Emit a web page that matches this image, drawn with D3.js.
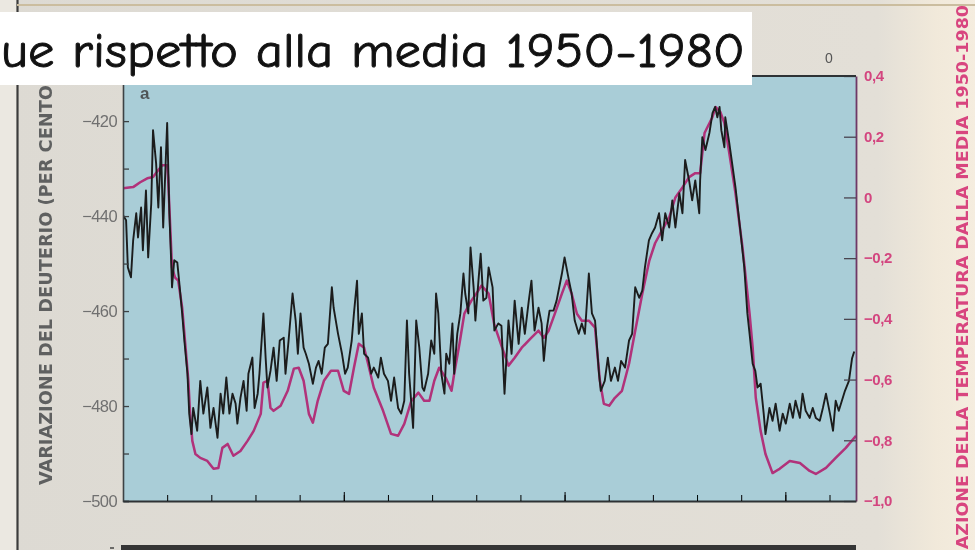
<!DOCTYPE html>
<html>
<head>
<meta charset="utf-8">
<script src="https://cdn.jsdelivr.net/npm/d3@7"></script>
<style>
  html, body { margin: 0; padding: 0; background: #e2dfd8; }
  svg { display: block; }
</style>
</head>
<body>
<script>
// Vostok ice core: deuterium (black) and temperature anomaly (magenta)
// ages in thousands of years before present

const deuteriumSeries = [
  [0,-439.8],[0.7,-440.9],[1.1,-450.8],[1.8,-452.9],[2.3,-445.1],[3.0,-439.4],[3.4,-444.5],[4.1,-438.2],
  [4.5,-447.2],[5.2,-434.6],[5.7,-448.7],[6.4,-437.3],[6.8,-421.9],[7.5,-428.9],[8.0,-438.2],[8.6,-425.5],
  [9.1,-442.4],[10.0,-420.4],[10.5,-439.4],[10.9,-449.3],[11.1,-455.0],[11.6,-449.3],[12.3,-449.8],[12.7,-453.6],
  [13.4,-460.5],[13.9,-466.2],[14.6,-473.2],[15.0,-481.6],[15.5,-485.9],[15.9,-480.4],[16.8,-485.2],[17.5,-474.7],
  [18.2,-481.6],[19.1,-476.1],[19.8,-484.6],[20.5,-480.4],[21.4,-486.7],[22.1,-477.4],[22.7,-481.6],[23.4,-474.0],
  [24.1,-481.6],[24.8,-477.4],[25.5,-479.5],[25.9,-483.7],[26.6,-478.3],[27.3,-474.7],[28.0,-481.0],[28.4,-473.2],
  [29.3,-469.8],[29.8,-480.4],[30.5,-477.4],[30.9,-473.2],[31.8,-460.5],[32.3,-469.8],[32.7,-476.1],[33.4,-472.6],
  [34.1,-467.7],[34.8,-474.7],[35.5,-466.2],[36.4,-465.6],[36.8,-473.2],[37.5,-466.2],[38.4,-456.3],[39.1,-462.0],
  [39.6,-469.0],[40.2,-460.5],[40.9,-467.7],[41.4,-469.0],[42.1,-471.1],[43.0,-475.3],[43.7,-471.9],[44.3,-470.5],
  [45.0,-473.2],[45.7,-467.7],[46.4,-466.9],[47.3,-455.0],[47.7,-459.3],[48.7,-464.8],[49.6,-469.0],[50.3,-473.2],
  [50.9,-471.9],[51.8,-466.2],[52.3,-460.5],[53.0,-453.6],[53.4,-464.8],[54.1,-460.5],[54.6,-469.0],[55.5,-469.8],
  [56.2,-473.2],[56.8,-471.9],[57.8,-474.0],[58.4,-469.8],[59.1,-473.2],[60.0,-474.7],[60.7,-478.9],[61.4,-474.0],
  [62.3,-480.4],[63.0,-481.6],[63.7,-478.9],[64.3,-462.0],[64.8,-473.2],[65.7,-484.6],[66.4,-462.0],[67.1,-467.7],
  [67.8,-476.1],[68.2,-476.8],[69.1,-473.2],[69.8,-466.2],[70.5,-469.0],[70.9,-456.3],[71.4,-460.5],[72.1,-473.2],
  [72.8,-477.4],[73.2,-469.0],[73.9,-471.1],[74.6,-462.6],[75.0,-473.2],[75.7,-464.8],[76.4,-460.5],[77.1,-452.1],
  [77.5,-456.3],[78.2,-460.5],[78.7,-446.6],[79.4,-455.0],[79.8,-462.0],[80.5,-453.6],[81.0,-447.9],[81.6,-457.8],
  [82.3,-457.2],[82.8,-450.8],[83.7,-455.0],[84.1,-464.1],[85.0,-462.6],[85.7,-463.1],[86.4,-477.4],[87.3,-462.0],
  [88.0,-469.0],[88.7,-457.8],[89.6,-466.9],[90.3,-459.3],[91.0,-464.8],[91.9,-457.8],[92.5,-453.6],[93.2,-464.1],
  [94.1,-459.3],[94.8,-462.6],[95.3,-470.5],[96.0,-463.5],[96.6,-459.9],[97.5,-459.9],[98.2,-457.8],[99.4,-452.1],
  [100.0,-448.7],[101.0,-453.6],[101.6,-456.3],[102.3,-462.0],[103.2,-464.8],[103.9,-462.6],[104.6,-464.8],[105.5,-452.1],
  [106.2,-460.5],[106.9,-462.0],[107.8,-473.2],[108.2,-476.8],[109.1,-474.7],[109.8,-469.8],[110.5,-474.7],[111.4,-471.9],
  [112.1,-474.7],[112.8,-470.5],[113.7,-471.9],[114.6,-466.2],[115.3,-464.8],[116.0,-455.0],[116.9,-457.2],[117.6,-455.7],
  [118.2,-450.8],[119.1,-445.1],[119.8,-443.6],[120.5,-442.4],[121.4,-439.4],[122.1,-445.1],[122.8,-439.4],[123.7,-442.4],
  [124.4,-436.7],[125.1,-442.4],[126.0,-435.2],[126.7,-439.4],[127.3,-428.2],[128.2,-432.5],[128.9,-436.7],[129.6,-432.5],
  [130.5,-439.4],[130.7,-432.5],[131.2,-423.4],[131.9,-426.1],[132.8,-422.5],[133.5,-418.3],[134.1,-417.0],[134.6,-419.2],
  [135.1,-417.0],[135.5,-421.9],[136.2,-425.5],[136.4,-419.2],[137.3,-424.6],[138.7,-433.9],[139.8,-443.0],[140.7,-450.8],
  [141.4,-460.5],[141.9,-464.8],[142.6,-471.1],[143.2,-472.6],[143.7,-476.1],[144.4,-475.3],[145.1,-481.6],[145.5,-485.9],
  [146.4,-480.4],[147.1,-483.1],[147.8,-479.5],[148.7,-485.2],[149.4,-481.6],[150.1,-483.7],[151.0,-479.5],[151.7,-482.5],
  [152.3,-478.9],[153.3,-482.5],[153.9,-477.4],[154.6,-481.0],[155.5,-482.5],[156.2,-480.4],[156.9,-482.5],[157.8,-483.1],
  [158.5,-480.4],[159.2,-477.4],[160.1,-481.6],[160.8,-485.2],[161.4,-478.9],[162.1,-481.0],[162.8,-478.9],[163.5,-476.8],
  [164.4,-474.7],[165.1,-470.0],[165.6,-468.5]
];

const temperatureSeries = [
  [0,0.03],[2.3,0.034],[3.9,0.05],[5.5,0.063],[6.8,0.067],[8.0,0.09],[8.9,0.106],[10.0,0.106],
  [10.2,0.067],[11.1,-0.231],[11.8,-0.264],[12.5,-0.274],[13.4,-0.363],[14.1,-0.482],[14.8,-0.604],[15.2,-0.713],
  [15.7,-0.802],[16.4,-0.845],[17.5,-0.858],[19.1,-0.868],[20.5,-0.894],[21.6,-0.891],[22.5,-0.825],[23.7,-0.812],
  [25.0,-0.851],[26.6,-0.835],[28.2,-0.802],[29.6,-0.769],[31.2,-0.713],[31.8,-0.61],[32.7,-0.604],[33.4,-0.693],
  [34.1,-0.703],[35.7,-0.686],[37.3,-0.637],[38.7,-0.564],[39.8,-0.561],[40.9,-0.604],[42.1,-0.713],[43.0,-0.742],
  [44.1,-0.67],[45.5,-0.604],[47.1,-0.571],[48.7,-0.571],[50.0,-0.637],[51.2,-0.647],[52.3,-0.561],[53.4,-0.482],
  [54.6,-0.495],[55.5,-0.548],[56.8,-0.627],[58.9,-0.703],[60.7,-0.779],[62.3,-0.785],[63.7,-0.746],[65.3,-0.67],
  [66.9,-0.643],[68.2,-0.67],[69.4,-0.67],[70.5,-0.604],[71.6,-0.561],[73.2,-0.597],[74.4,-0.637],[75.0,-0.581],
  [76.2,-0.482],[77.3,-0.383],[78.9,-0.34],[80.0,-0.317],[81.2,-0.29],[82.8,-0.317],[84.1,-0.42],[85.7,-0.488],
  [87.3,-0.554],[88.7,-0.528],[90.3,-0.495],[92.5,-0.462],[94.1,-0.439],[95.3,-0.462],[96.4,-0.439],[97.8,-0.383],
  [99.4,-0.317],[100.5,-0.274],[101.6,-0.317],[102.8,-0.383],[103.9,-0.406],[105.5,-0.406],[106.9,-0.429],[108.0,-0.604],
  [108.9,-0.68],[110.1,-0.686],[111.4,-0.66],[113.0,-0.637],[114.6,-0.548],[116.0,-0.439],[117.6,-0.317],[119.2,-0.208],
  [120.5,-0.151],[122.1,-0.108],[123.7,-0.066],[125.1,0.0],[126.7,0.033],[128.2,0.067],[129.6,0.08],[130.7,0.08],
  [131.7,0.212],[133.5,0.265],[134.2,0.298],[135.3,0.281],[136.2,0.245],[137.3,0.146],[138.7,0.014],[140.3,-0.165],
  [141.9,-0.383],[142.6,-0.495],[143.3,-0.66],[144.4,-0.769],[145.5,-0.845],[147.1,-0.908],[148.7,-0.894],[151.0,-0.868],
  [153.3,-0.875],[155.5,-0.901],[156.9,-0.911],[159.2,-0.891],[161.4,-0.858],[163.7,-0.825],[166.0,-0.785]
];

const deuteriumTicks = [-500, -480, -460, -440, -420];
const deuteriumMinorTicks = [-490, -470, -450, -430, -410];
const temperatureTicks = [0.4, 0.2, 0, -0.2, -0.4, -0.6, -0.8, -1.0];
const ageTicks = [10, 20, 30, 40, 50, 60, 70, 80, 90, 100, 110, 120, 130, 140, 150, 160];
const ageMajorTicks = [50, 100, 150];

const leftTitle = "VARIAZIONE DEL DEUTERIO (PER CENTO)";
const rightTitle = "VARIAZIONE DELLA TEMPERATURA DALLA MEDIA 1950-1980";
const panelLetter = "a";
const topAxisLabel = "0";
const captionText = "ue rispetto alla media 1950-1980";

// ---- layout ----
const W = 975, H = 550;
const plot = { left: 123, right: 856, top: 76, bottom: 501 };

const x = d3.scaleLinear().domain([0, 166]).range([plot.left, plot.right]);
const yD = d3.scaleLinear().domain([-500, -410.5]).range([plot.bottom, plot.top]);
const yT = d3.scaleLinear().domain([-1.0, 0.4]).range([plot.bottom, plot.top]);

const itLocale = d3.formatLocale({ decimal: ",", thousands: ".", grouping: [3], currency: ["", "€"], minus: "\u2212" });
const fmtT = itLocale.format(".1f");
const fmtD = itLocale.format("d");

const svg = d3.select("body").append("svg")
  .attr("width", W).attr("height", H)
  .attr("viewBox", `0 0 ${W} ${H}`);

const defs = svg.append("defs");
const paper = defs.append("linearGradient").attr("id", "paper")
  .attr("x1", 0).attr("x2", 1).attr("y1", 0).attr("y2", 0);
paper.append("stop").attr("offset", "0%").attr("stop-color", "#dddad3");
paper.append("stop").attr("offset", "90%").attr("stop-color", "#e3dfd7");
paper.append("stop").attr("offset", "96%").attr("stop-color", "#f1e9da");
paper.append("stop").attr("offset", "100%").attr("stop-color", "#f5eddf");

defs.append("filter").attr("id", "scan")
  .attr("x", "-5%").attr("y", "-5%").attr("width", "110%").attr("height", "110%")
  .append("feGaussianBlur").attr("stdDeviation", 0.65);

defs.append("clipPath").attr("id", "plotClip")
  .append("rect")
  .attr("x", plot.left).attr("y", plot.top)
  .attr("width", plot.right - plot.left).attr("height", plot.bottom - plot.top);

// paper
svg.append("rect").attr("width", W).attr("height", H).attr("fill", "url(#paper)");
svg.append("rect").attr("x", 0).attr("y", 0).attr("width", 17).attr("height", H).attr("fill", "#ebe8e1");

const scan = svg.append("g").attr("filter", "url(#scan)");

// page edge and top rule of the printed page
scan.append("line").attr("x1", 17.5).attr("x2", 17.5).attr("y1", 0).attr("y2", H)
  .attr("stroke", "#3b3b3b").attr("stroke-width", 2.2);
scan.append("line").attr("x1", 17).attr("x2", W).attr("y1", 5).attr("y2", 5)
  .attr("stroke", "#cbbd9f").attr("stroke-width", 2);

// plot background
scan.append("rect")
  .attr("x", plot.left).attr("y", plot.top)
  .attr("width", plot.right - plot.left).attr("height", plot.bottom - plot.top)
  .attr("fill", "#a9cdd7");

// series
const lines = scan.append("g").attr("clip-path", "url(#plotClip)");
lines.append("path")
  .datum(temperatureSeries)
  .attr("fill", "none")
  .attr("stroke", "#b1307a")
  .attr("stroke-width", 2.5)
  .attr("stroke-linejoin", "round")
  .attr("d", d3.line().x(d => x(d[0])).y(d => yT(d[1])));
lines.append("path")
  .datum(deuteriumSeries)
  .attr("fill", "none")
  .attr("stroke", "#1b1d1d")
  .attr("stroke-width", 1.9)
  .attr("stroke-linejoin", "round")
  .attr("d", d3.line().x(d => x(d[0])).y(d => yD(d[1])));

// left axis (deuterium)
const leftAxis = scan.append("g").attr("transform", `translate(${plot.left},0)`)
  .call(d3.axisLeft(yD).tickValues(deuteriumTicks).tickSize(-6).tickPadding(6).tickFormat(d => fmtD(d)));
scan.append("g").attr("transform", `translate(${plot.left},0)`)
  .call(d3.axisLeft(yD).tickValues(deuteriumMinorTicks).tickSize(-6).tickFormat(""))
  .call(g => g.select(".domain").remove());
leftAxis.select(".domain").attr("stroke", "#3e4244").attr("stroke-width", 1.6);
scan.selectAll("g.tick line").attr("stroke", "#3e4244").attr("stroke-width", 1.3);
leftAxis.selectAll("text")
  .attr("font-family", "'Liberation Sans', Arial, sans-serif")
  .attr("font-size", 16.5).attr("fill", "#707070")
  .attr("letter-spacing", -0.6);

// right axis (temperature)
const rightAxis = scan.append("g").attr("transform", `translate(${plot.right},0)`)
  .call(d3.axisRight(yT).tickValues(temperatureTicks).tickSizeInner(-12).tickSizeOuter(0).tickPadding(8)
    .tickFormat(d => d === 0 ? "0" : fmtT(d)));
rightAxis.select(".domain").attr("stroke", "#6e3766").attr("stroke-width", 1.8);
rightAxis.selectAll("line").attr("stroke", "#4a4450").attr("stroke-width", 1.3);
rightAxis.selectAll("text")
  .attr("font-family", "'Liberation Sans', Arial, sans-serif")
  .attr("font-weight", "bold")
  .attr("font-size", 15).attr("fill", "#d3457f")
  .attr("letter-spacing", -0.4);

// bottom axis (age ticks, inside)
const bottomAxis = scan.append("g").attr("transform", `translate(0,${plot.bottom})`)
  .call(d3.axisBottom(x).tickValues(ageTicks).tickSizeInner(-6).tickSizeOuter(0).tickFormat(""));
scan.append("g").attr("transform", `translate(0,${plot.bottom})`)
  .call(d3.axisBottom(x).tickValues(ageMajorTicks).tickSizeInner(-9).tickSizeOuter(0).tickFormat(""))
  .call(g => g.select(".domain").remove());
bottomAxis.select(".domain").attr("stroke", "#2f3335").attr("stroke-width", 2.2);

// top border
scan.append("line")
  .attr("x1", plot.left).attr("x2", plot.right).attr("y1", plot.top).attr("y2", plot.top)
  .attr("stroke", "#2f3335").attr("stroke-width", 2);

// panel letter
scan.append("text").attr("x", 140).attr("y", 99)
  .attr("font-family", "'Liberation Sans', Arial, sans-serif").attr("font-weight", "bold")
  .attr("font-size", 17).attr("fill", "#4f5557").text(panelLetter);

// top axis label fragment
scan.append("text").attr("x", 829).attr("y", 63).attr("text-anchor", "middle")
  .attr("font-family", "'Liberation Sans', Arial, sans-serif")
  .attr("font-size", 14).attr("fill", "#555").text(topAxisLabel);

// axis titles
scan.append("text")
  .attr("transform", "translate(52,485) rotate(-90)")
  .attr("font-family", "'Liberation Sans Narrow', 'DejaVu Sans Condensed', 'Liberation Sans', Arial, sans-serif")
  .attr("font-weight", "bold").attr("font-size", 17).attr("fill", "#5e6060")
  .attr("textLength", 408).attr("lengthAdjust", "spacingAndGlyphs")
  .text(leftTitle);

scan.append("text")
  .attr("transform", "translate(968,5) rotate(-90)")
  .attr("text-anchor", "end")
  .attr("font-family", "'Liberation Sans Narrow', 'DejaVu Sans Condensed', 'Liberation Sans', Arial, sans-serif")
  .attr("font-weight", "bold").attr("font-size", 16).attr("fill", "#d8447f")
  .attr("textLength", 590).attr("lengthAdjust", "spacingAndGlyphs")
  .text(rightTitle);

// top edge of the next panel
scan.append("rect").attr("x", 121).attr("y", 545).attr("width", 735).attr("height", 6).attr("fill", "#343434");
scan.append("line").attr("x1", 110).attr("x2", 114).attr("y1", 548).attr("y2", 548)
  .attr("stroke", "#444").attr("stroke-width", 1.5);

// caption strip
svg.append("rect").attr("x", 0).attr("y", 12).attr("width", 752).attr("height", 73).attr("fill", "#ffffff");
svg.append("text").attr("x", 1).attr("y", 67)
  .attr("font-family", "'Comic Sans MS', 'Comic Neue', 'DejaVu Sans', sans-serif")
  .attr("font-size", 48).attr("fill", "#111")
  .attr("stroke", "#111").attr("stroke-width", 0.9)
  .attr("textLength", 744).attr("lengthAdjust", "spacingAndGlyphs")
  .text(captionText);
</script>
</body>
</html>
